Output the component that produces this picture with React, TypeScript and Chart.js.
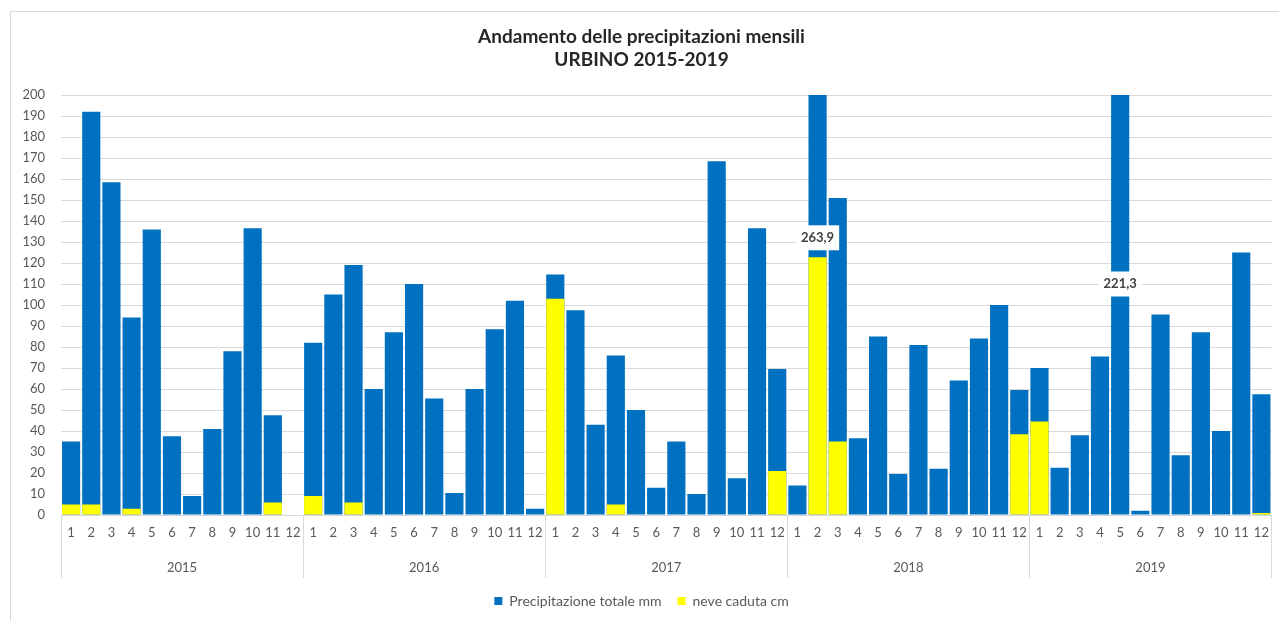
import React, { useEffect, useRef } from "react";
import { Chart, registerables } from "chart.js";

Chart.register(...registerables);

const years = ["2015", "2016", "2017", "2018", "2019"];
const months = ["1", "2", "3", "4", "5", "6", "7", "8", "9", "10", "11", "12"];

const precip2015 = [35, 192, 158.5, 94, 136, 37.5, 9, 41, 78, 136.5, 47.5, 0];
const precip2016 = [82, 105, 119, 60, 87, 110, 55.5, 10.5, 60, 88.5, 102, 3];
const precip2017 = [114.5, 97.5, 43, 76, 50, 13, 35, 10, 168.5, 17.5, 136.5, 69.5];
const precip2018 = [14, 263.9, 151, 36.5, 85, 19.5, 81, 22, 64, 84, 100, 59.5];
const precip2019 = [70, 22.5, 38, 75.5, 221.3, 2, 95.5, 28.5, 87, 40, 125, 57.5];

const snow2015 = [5, 5, 0, 3, 0, 0, 0, 0, 0, 0, 6, 0];
const snow2016 = [9, 0, 6, 0, 0, 0, 0, 0, 0, 0, 0, 0];
const snow2017 = [103, 0, 0, 5, 0, 0, 0, 0, 0, 0, 0, 21];
const snow2018 = [0, 122.7, 35, 0, 0, 0, 0, 0, 0, 0, 0, 38.5];
const snow2019 = [44.5, 0, 0, 0, 0, 0, 0, 0, 0, 0, 0, 1];

const yMax = 200;

const FONT = "Lato, 'Open Sans', sans-serif";
const GREY = "#595959";
const GRID = "#d9d9d9";

const yearAxisPlugin = {
  id: "yearAxis",
  afterDraw(chart: any) {
    const x = chart.scales.x;
    const area = chart.chartArea;
    const ctx = chart.ctx;
    const n = months.length;
    const step = x.getPixelForValue(1) - x.getPixelForValue(0);
    ctx.save();
    ctx.strokeStyle = GRID;
    ctx.lineWidth = 1;
    ctx.fillStyle = GREY;
    ctx.font = `13px ${FONT}`;
    ctx.textAlign = "center";
    ctx.textBaseline = "middle";
    years.forEach((yr, i) => {
      const first = x.getPixelForValue(i * n);
      const last = x.getPixelForValue(i * n + n - 1);
      const left = Math.round(first - step / 2) + 0.5;
      ctx.beginPath();
      ctx.moveTo(left, area.bottom);
      ctx.lineTo(left, area.bottom + 63);
      ctx.stroke();
      if (i === years.length - 1) {
        const right = Math.round(last + step / 2) + 0.5;
        ctx.beginPath();
        ctx.moveTo(right, area.bottom);
        ctx.lineTo(right, area.bottom + 63);
        ctx.stroke();
      }
      ctx.fillText(yr, (first + last) / 2, area.bottom + 53);
    });
    ctx.restore();
  },
};

const overflowPlugin = {
  id: "overflowLabels",
  afterDatasetsDraw(chart: any, _args: any, opts: any) {
    const ds = chart.data.datasets[0].data as number[];
    const x = chart.scales.x;
    const y = chart.scales.y;
    const ctx = chart.ctx;
    const pos = opts.positions || {};
    ctx.save();
    ctx.font = `bold 13px ${FONT}`;
    ctx.textAlign = "center";
    ctx.textBaseline = "middle";
    ds.forEach((v, i) => {
      if (v > yMax) {
        const txt = String(v).replace(".", ",");
        const cx = x.getPixelForValue(i);
        const cy = y.getPixelForValue(pos[i] ?? yMax * 0.6);
        const w = ctx.measureText(txt).width + 10;
        ctx.fillStyle = "#ffffff";
        ctx.fillRect(cx - w / 2, cy - 12.5, w, 25);
        ctx.fillStyle = "#404040";
        ctx.fillText(txt, cx, cy);
      }
    });
    ctx.restore();
  },
};

export default function App() {
  const ref = useRef<HTMLCanvasElement>(null);
  useEffect(() => {
    if (!ref.current) return;
    const labels = years.flatMap(() => months);
    const precip = [...precip2015, ...precip2016, ...precip2017, ...precip2018, ...precip2019];
    const snow = [...snow2015, ...snow2016, ...snow2017, ...snow2018, ...snow2019];
    const chart = new Chart(ref.current, {
      type: "bar",
      data: {
        labels,
        datasets: [
          {
            label: "Precipitazione totale mm",
            data: precip,
            backgroundColor: "#0070C0",
            borderWidth: 0,
            order: 2,
          },
          {
            label: "neve caduta cm",
            data: snow,
            backgroundColor: "#FFFF00",
            borderWidth: 0,
            order: 1,
          },
        ],
      },
      plugins: [yearAxisPlugin, overflowPlugin],
      options: {
        responsive: false,
        animation: false,
        layout: { padding: { left: 10, right: 6, top: 12, bottom: 3 } },
        datasets: {
          bar: { grouped: false, barPercentage: 0.9, categoryPercentage: 1.0 },
        } as any,
        plugins: {
          title: {
            display: true,
            text: ["Andamento delle precipitazioni mensili", "URBINO 2015-2019"],
            color: "#262626",
            font: { family: FONT, size: 19, weight: "bold", lineHeight: 23 / 19 },
            padding: { top: 13, bottom: 24 },
          },
          legend: {
            position: "bottom",
            labels: {
              boxWidth: 8,
              boxHeight: 8,
              color: GREY,
              padding: 16,
              font: { family: FONT, size: 14 },
              sort: (a: any, b: any) => a.datasetIndex - b.datasetIndex,
            },
          },
          tooltip: { enabled: false },
          overflowLabels: { positions: { 37: 132, 52: 110 } },
        } as any,
        scales: {
          x: {
            grid: { display: false, drawTicks: false },
            border: { display: true, color: GRID },
            ticks: {
              color: GREY,
              font: { family: FONT, size: 13 },
              padding: 10,
              autoSkip: false,
              maxRotation: 0,
            },
            afterFit(scale: any) {
              scale.height = 63;
            },
          },
          y: {
            min: 0,
            max: yMax,
            grid: { color: GRID, drawTicks: false },
            border: { display: false },
            ticks: {
              stepSize: 10,
              color: GREY,
              font: { family: FONT, size: 13 },
              padding: 16,
            },
            afterFit(scale: any) {
              scale.width = 51;
            },
          },
        },
      },
    });
    return () => chart.destroy();
  }, []);

  return (
    <div style={{ position: "fixed", left: 0, top: 0, width: 1279, height: 621, background: "#fff", overflow: "hidden" }}>
      <div
        style={{
          position: "absolute",
          left: 10,
          top: 11,
          width: 1300,
          height: 640,
          border: "1px solid #d9d9d9",
        }}
      />
      <canvas ref={ref} width={1279} height={621} style={{ position: "absolute", left: 0, top: 0 }} />
    </div>
  );
}
